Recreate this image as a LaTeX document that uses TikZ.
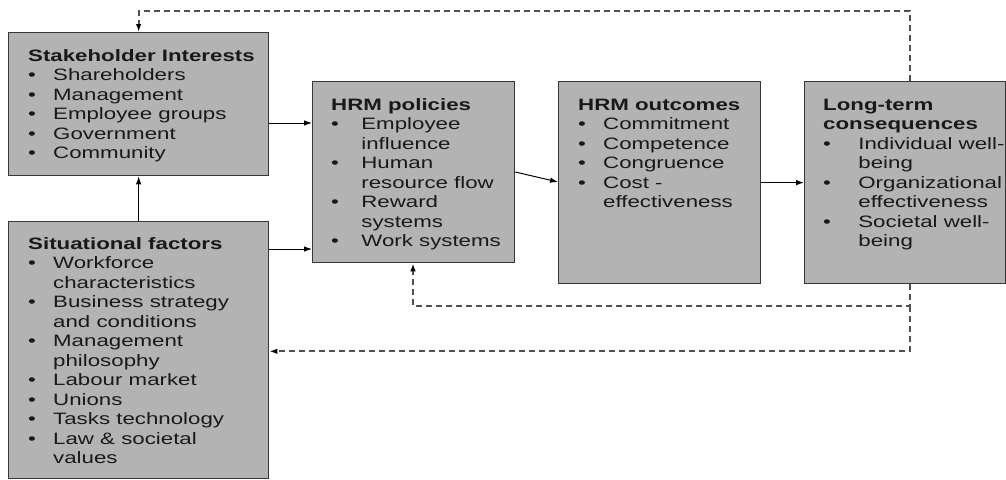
\documentclass[tikz,border=0pt]{standalone}
\usepackage{fontspec}
\setmainfont{Liberation Sans}[FakeStretch=1.35]
\usetikzlibrary{arrows.meta}
\definecolor{boxfill}{RGB}{179,179,179}
\definecolor{boxline}{RGB}{55,55,55}
\definecolor{dashcol}{RGB}{80,80,80}
\definecolor{txtcol}{RGB}{25,25,25}
\newcommand{\bul}[1][25pt]{\makebox[#1][l]{•}}
\newcommand{\ind}[1][25pt]{\hspace*{#1}}
\begin{document}
\begin{tikzpicture}[x=1pt,y=-1pt,
  panel/.style={draw=boxline, line width=1.3pt, fill=boxfill, inner sep=0pt, anchor=north west},
  txt/.style={anchor=base west, inner sep=0pt, align=left, font=\fontsize{16.5}{19.5}\selectfont, text=txtcol},
  arr/.style={line width=1pt, -{Latex[length=8pt,width=5.5pt]}},
  fb/.style={draw=dashcol, line width=1.9pt, dash pattern=on 6pt off 4pt, -{Latex[length=8pt,width=5.5pt,color=black]}}
]
\useasboundingbox (0,0) rectangle (1006,479);

% boxes
\node[panel, minimum width=260pt, minimum height=143pt] (sh) at (8,32) {};
\node[panel, minimum width=260pt, minimum height=257pt] (sit) at (8,221) {};
\node[panel, minimum width=202pt, minimum height=181pt] (pol) at (312,81) {};
\node[panel, minimum width=202pt, minimum height=202pt] (out) at (558,81) {};
\node[panel, minimum width=201pt, minimum height=202pt] (lt) at (804,81) {};

% texts (anchored at the baseline of their last line)
\node[txt] (tsh) at (28,158.5) {\textbf{Stakeholder Interests}\\
\bul Shareholders\\
\bul Management\\
\bul Employee groups\\
\bul Government\\
\bul Community};

\node[txt] (tsit) at (28,463.5) {\textbf{Situational factors}\\
\bul Workforce\\
\ind characteristics\\
\bul Business strategy\\
\ind and conditions\\
\bul Management\\
\ind philosophy\\
\bul Labour market\\
\bul Unions\\
\bul Tasks technology\\
\bul Law \& societal\\
\ind values};

\node[txt] (tpol) at (331,246.5) {\textbf{HRM policies}\\
\bul[24pt] Employee\\
\ind[24pt] influence\\
\bul[24pt] Human\\
\ind[24pt] resource flow\\
\bul[24pt] Reward\\
\ind[24pt] systems\\
\bul[24pt] Work systems};

\node[txt] (tout) at (578,207.5) {\textbf{HRM outcomes}\\
\bul Commitment\\
\bul Competence\\
\bul Congruence\\
\bul Cost -\\
\ind effectiveness};

\node[txt] (tlt) at (823,246.5) {\textbf{Long-term}\\
\textbf{consequences}\\
\bul[29pt] Individual well-\\
\ind[29pt] being\\
\bul[29pt] Organizational\\
\ind[29pt] effectiveness\\
\bul[29pt] Societal well-\\
\ind[29pt] being};

% solid connectors
\coordinate (s1) at ([yshift=-91pt]sh.north east);
\draw[arr] (s1) -- (s1 -| pol.west);
\coordinate (s2) at ([yshift=-28pt]sit.north east);
\draw[arr] (s2) -- (s2 -| pol.west);
\draw[arr] (sit.north) -- (sh.south);
\draw[arr] ([yshift=-91pt]pol.north east) -- ([yshift=-101pt]out.north west);
\draw[arr] (out.east) -- (lt.west);

% feedback connectors
\coordinate (t1) at ([xshift=106pt]lt.north west);
\coordinate (t2) at ([yshift=70pt]t1);
\draw[fb] (t1) -- (t2) -| (sh.north);
\coordinate (b1) at ([xshift=106pt]lt.south west);
\coordinate (b2) at ([yshift=-22pt]b1);
\coordinate (b3) at ([yshift=-67pt]b1);
\draw[fb] (b1) -- (b2) -| ([xshift=101pt]pol.south west);
\draw[fb] (b2) -- (b3) -- (b3 -| sit.east);
\end{tikzpicture}
\end{document}
